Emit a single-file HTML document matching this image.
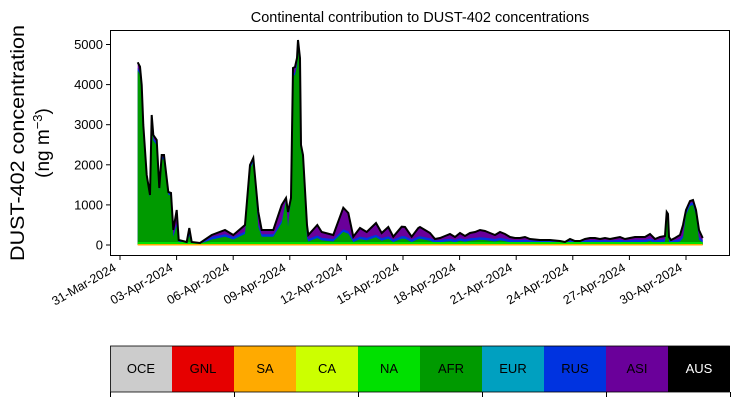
<!DOCTYPE html><html><head><style>body{margin:0;background:#fff}svg{font-family:"Liberation Sans",sans-serif}</style></head><body>
<svg id="s" width="739" height="402" xmlns="http://www.w3.org/2000/svg">
<text x="420" y="22" font-size="14.5" text-anchor="middle">Continental contribution to DUST-402 concentrations</text>
<text transform="translate(24,143) rotate(-90)" font-size="19" text-anchor="middle" textLength="236" lengthAdjust="spacingAndGlyphs">DUST-402 concentration</text>
<text transform="translate(49,143) rotate(-90)" font-size="19" text-anchor="middle">(ng m<tspan dy="-7" font-size="13">−3</tspan><tspan dy="7">)</tspan></text>
<g id="plot"></g>
<rect x="110.5" y="30.5" width="619" height="225" fill="none" stroke="#000" stroke-width="1"/>
<g font-size="13" text-anchor="end" id="yt"></g>
<g font-size="12.5" text-anchor="end" id="xt"></g>
<g id="leg" font-size="13" text-anchor="middle"></g>
</svg>
<script>
var T=[[137.7,62.3],[140,66.7],[141.7,85],[143.3,125],[146.7,175],[150,195],[151.7,115],[153.3,135],[156.7,140],[159.3,188],[161.7,155],[164,155],[168.3,192],[171,193],[173.3,230],[176.7,210],[178.7,240],[186.7,242],[189.3,228],[191.7,242],[200,243],[211.7,235],[225,230],[233.3,235],[245,225],[250,165],[253.3,158],[258.3,212],[261.7,230],[273.3,230],[281.7,205],[286,198],[288,212],[291,198],[293,68],[295,67],[297,58],[298,40],[300,58],[301,145],[303,155],[307,225],[308.3,235],[317.3,225],[321.7,232],[333.3,235],[343.3,207.7],[348.3,213],[353.3,236.7],[360,228],[366.7,232],[376,223],[381.7,233],[388.3,227],[393.3,236.7],[401.7,226.7],[405,227],[411.7,236.7],[418.3,228],[420,227],[425,230],[430,233],[435,239],[440,238],[445,236],[450,234],[455,237],[460,233],[465,236],[470,233],[475,232],[480,230],[485,231],[490,233],[495,235],[500,232],[505,234],[510,237],[515,238],[520,238],[525,237],[530,239],[540,240],[550,240],[560,241],[565,242],[570,239],[575,241],[580,241],[585,239],[590,238],[595,238],[600,239],[605,238],[610,239],[615,238],[620,237],[625,239],[630,238],[635,237],[640,237],[645,237],[650,234],[655,239],[660,237],[665,236],[666.7,212],[668,214],[669,237],[671,240],[675,238],[680,235],[683,225],[686,210],[690,201],[693,200],[696,210],[699,230],[702.7,238]];
var B=245;
function area(f){var d="M137.7,"+B;T.forEach(function(p){d+=" L"+p[0]+","+f(p).toFixed(1)});return d+" L702.7,"+B+" Z";}
var h=function(p){return B-p[1]};
var green=function(p){var x=p[0],hh=h(p),g;if(hh>40)g=hh-Math.min(8,hh*.05);else g=(x<300?hh*0.55:hh*0.35);if(x>660&&hh>20)g=hh-5;return B-g;};
var blue=function(p){var g=B-green(p);return B-Math.min(h(p)-1,g+2.5);};
var plot=document.getElementById("plot"),ns="http://www.w3.org/2000/svg";
function add(tag,at,par){var e=document.createElementNS(ns,tag);for(var k in at)e.setAttribute(k,at[k]);(par||plot).appendChild(e);return e;}
add("path",{d:area(function(p){return p[1]}),fill:"#6a009a"});
add("path",{d:area(blue),fill:"#0033e0"});
add("path",{d:area(green),fill:"#009a00"});
add("path",{d:area(function(p){return B-Math.min(h(p),3)}),fill:"#00e000"});
add("rect",{x:137.7,y:244,width:565,height:1.5,fill:"#ffaa00"});
var l="M"+T.map(function(p){return p[0]+","+p[1]}).join(" L");
add("path",{d:l,fill:"none",stroke:"#000","stroke-width":2});
var yt=document.getElementById("yt");
for(var i=0;i<=5;i++){var y=245-i*40.1;add("line",{x1:106,x2:110.5,y1:y,y2:y,stroke:"#000"});var t=add("text",{x:103,y:y+4.5},yt);t.textContent=i*1000;}
var lab=["31-Mar-2024","03-Apr-2024","06-Apr-2024","09-Apr-2024","12-Apr-2024","15-Apr-2024","18-Apr-2024","21-Apr-2024","24-Apr-2024","27-Apr-2024","30-Apr-2024"];
var xt=document.getElementById("xt");
lab.forEach(function(s,i){var x=120+i*56.6;add("line",{x1:x,x2:x,y1:255.5,y2:260,stroke:"#000"});var t=add("text",{transform:"translate("+(x-3)+",270) rotate(-30)"},xt);t.textContent=s;});
var cols=[["OCE","#cccccc"],["GNL","#e60000"],["SA","#ffaa00"],["CA","#ccff00"],["NA","#00e000"],["AFR","#009a00"],["EUR","#00a0c0"],["RUS","#0033e0"],["ASI","#6a009a"],["AUS","#000000"]];
var lg=document.getElementById("leg");
cols.forEach(function(c,i){var x=110+i*62;add("rect",{x:x,y:346,width:62,height:46,fill:c[1]},lg);var t=add("text",{x:x+31,y:373,fill:c[0]=="AUS"?"#fff":"#000"},lg);t.textContent=c[0];});
add("rect",{x:110.5,y:346,width:619,height:46,fill:"none",stroke:"#000","stroke-width":0.8},lg);
for(var i=0;i<6;i++){var x=110.5+i*124;add("line",{x1:x,x2:x,y1:392,y2:397,stroke:"#000"},lg);}
</script></body></html>
